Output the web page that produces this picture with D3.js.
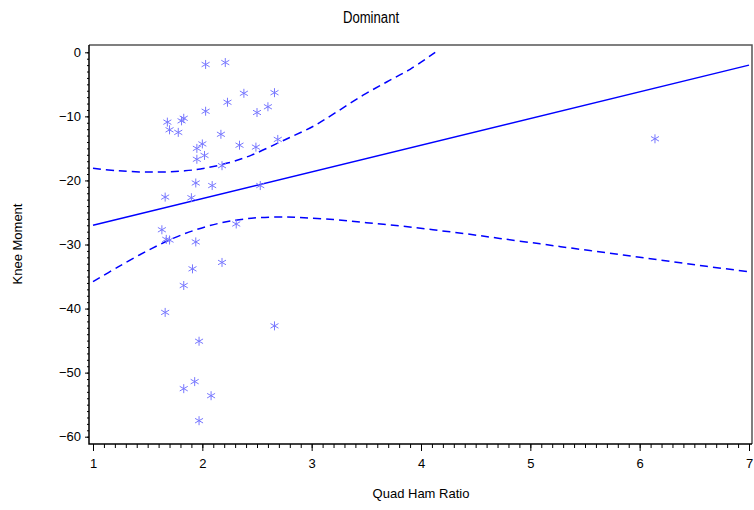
<!DOCTYPE html>
<html>
<head>
<meta charset="utf-8">
<script src="https://cdn.jsdelivr.net/npm/d3@7"></script>
<style>
  body { margin: 0; background: #fff; }
  text { font-family: "Liberation Sans", Arial, sans-serif; }
</style>
</head>
<body>
<script>
// scatter values
var ratio = [2.03, 2.21, 2.38, 2.66, 2.23, 2.03, 2.50, 2.60, 1.68, 1.83, 1.81,
             1.70, 1.78, 2.17, 2.00, 1.95, 2.34, 2.49, 2.69, 2.02, 1.95, 2.18,
             1.94, 2.09, 2.53, 1.66, 1.90, 1.63, 2.31, 1.67, 1.70, 1.94, 2.18,
             1.91, 1.83, 1.66, 2.66, 1.97, 1.93, 1.83, 2.08, 1.97, 6.14];
var moment = [-1.9, -1.6, -6.4, -6.3, -7.8, -9.2, -9.4, -8.5, -10.9, -10.3, -10.7,
              -12.1, -12.5, -12.8, -14.3, -15.0, -14.5, -14.8, -13.6, -16.1, -16.7, -17.7,
              -20.4, -20.8, -20.8, -22.6, -22.7, -27.7, -26.8, -29.2, -29.3, -29.6, -32.8,
              -33.8, -36.4, -40.6, -42.7, -45.1, -51.4, -52.5, -53.6, -57.5, -13.5];

// fitted line and 95% bands
var fitX = [1, 7];
var fitY = [-27.0, -2.0];
var upperX = [1.00, 1.23, 1.54, 1.84, 2.02, 2.24, 2.45, 2.70, 2.80, 3.02, 3.23, 3.47, 3.69, 3.90, 4.13];
var upperY = [-18.1, -18.5, -18.7, -18.5, -18.1, -17.25, -16.05, -14.1, -13.3, -11.5, -9.3, -6.7, -4.6, -2.65, 0];
var lowerX = [1.00, 1.23, 1.54, 1.84, 2.15, 2.45, 2.76, 2.89, 3.20, 3.50, 3.81, 4.11, 4.42, 4.72,
              5.09, 5.39, 5.70, 6.00, 6.31, 6.61, 7.00];
var lowerY = [-35.8, -33.5, -30.6, -28.3, -26.7, -25.9, -25.7, -25.8, -26.1, -26.6, -27.1, -27.7,
              -28.35, -29.05, -29.9, -30.6, -31.3, -32.0, -32.7, -33.4, -34.25];

var xTicks = [1, 2, 3, 4, 5, 6, 7];
var yTicks = [0, -10, -20, -30, -40, -50, -60];

var W = 754, H = 510;
var frame = { left: 89, right: 752, top: 45, bottom: 444 };

var svg = d3.select("body").append("svg")
            .attr("width", W)
            .attr("height", H);

var x = d3.scaleLinear().domain([1, 7]).range([93, 749]);
var y = d3.scaleLinear().domain([-60, 0]).range([436.7, 52.3]);

var fmt = function(d){ return d < 0 ? "\u2212" + Math.abs(d) : String(d); };

// minor ticks
svg.append("g")
   .attr("transform", "translate(0," + frame.bottom + ")")
   .call(d3.axisBottom(x).tickValues(d3.range(10, 71).map(function(d){ return d / 10; }))
           .tickSize(4).tickFormat(""))
   .call(function(g){ g.select(".domain").remove(); });

svg.append("g")
   .attr("transform", "translate(" + frame.left + ",0)")
   .call(d3.axisLeft(y).tickValues(d3.range(-60, 1))
           .tickSize(2).tickFormat(""))
   .call(function(g){ g.select(".domain").remove(); });

// major ticks
var xAxis = svg.append("g")
   .attr("transform", "translate(0," + frame.bottom + ")")
   .call(d3.axisBottom(x).tickValues(xTicks).tickSize(7).tickPadding(8).tickFormat(fmt));
xAxis.select(".domain").remove();
xAxis.selectAll("text").attr("font-size", 13).attr("fill", "#000")
     .style("font-family", "'Liberation Sans', Arial, sans-serif");

var yAxis = svg.append("g")
   .attr("transform", "translate(" + frame.left + ",0)")
   .call(d3.axisLeft(y).tickValues(yTicks).tickSize(4).tickPadding(4).tickFormat(fmt));
yAxis.select(".domain").remove();
yAxis.selectAll("text").attr("font-size", 13).attr("fill", "#000")
     .style("font-family", "'Liberation Sans', Arial, sans-serif");

// frame
svg.append("path")
   .attr("d", "M" + frame.left + "," + frame.top + "H" + frame.right + "V" + frame.bottom)
   .attr("fill", "none").attr("stroke", "#555").attr("stroke-width", 1.5);
svg.append("path")
   .attr("d", "M" + frame.left + "," + frame.top + "V" + frame.bottom + "H" + frame.right)
   .attr("fill", "none").attr("stroke", "#000").attr("stroke-width", 1.5);

// lines
var line = d3.line()
             .x(function(d){ return x(d[0]); })
             .y(function(d){ return y(d[1]); })
             .curve(d3.curveCatmullRom);

svg.append("path")
   .datum(d3.zip(fitX, fitY))
   .attr("d", line)
   .attr("fill", "none").attr("stroke", "#0000ff").attr("stroke-width", 1.5);

[[upperX, upperY], [lowerX, lowerY]].forEach(function(b){
    svg.append("path")
       .datum(d3.zip(b[0], b[1]))
       .attr("d", line)
       .attr("fill", "none").attr("stroke", "#0000ff").attr("stroke-width", 1.5)
       .attr("stroke-dasharray", "8,5");
});

// star markers
var star = "M0,-4.5V4.5M-4,-2.3L4,2.3M-4,2.3L4,-2.3";
svg.append("g").selectAll("path")
   .data(d3.zip(ratio, moment))
   .enter()
   .append("path")
   .attr("transform", function(d){ return "translate(" + x(d[0]) + "," + y(d[1]) + ")"; })
   .attr("d", star)
   .attr("fill", "none")
   .attr("stroke", "#7878ff")
   .attr("stroke-width", 1);

// titles
svg.append("text")
   .attr("transform", "translate(371,23) scale(0.82,1)")
   .attr("text-anchor", "middle")
   .attr("font-size", 16)
   .text("Dominant");

svg.append("text")
   .attr("x", 421).attr("y", 498)
   .attr("text-anchor", "middle")
   .attr("font-size", 13)
   .text("Quad Ham Ratio");

svg.append("text")
   .attr("transform", "translate(22," + 244 + ") rotate(-90)")
   .attr("text-anchor", "middle")
   .attr("font-size", 13)
   .text("Knee Moment");
</script>
</body>
</html>
